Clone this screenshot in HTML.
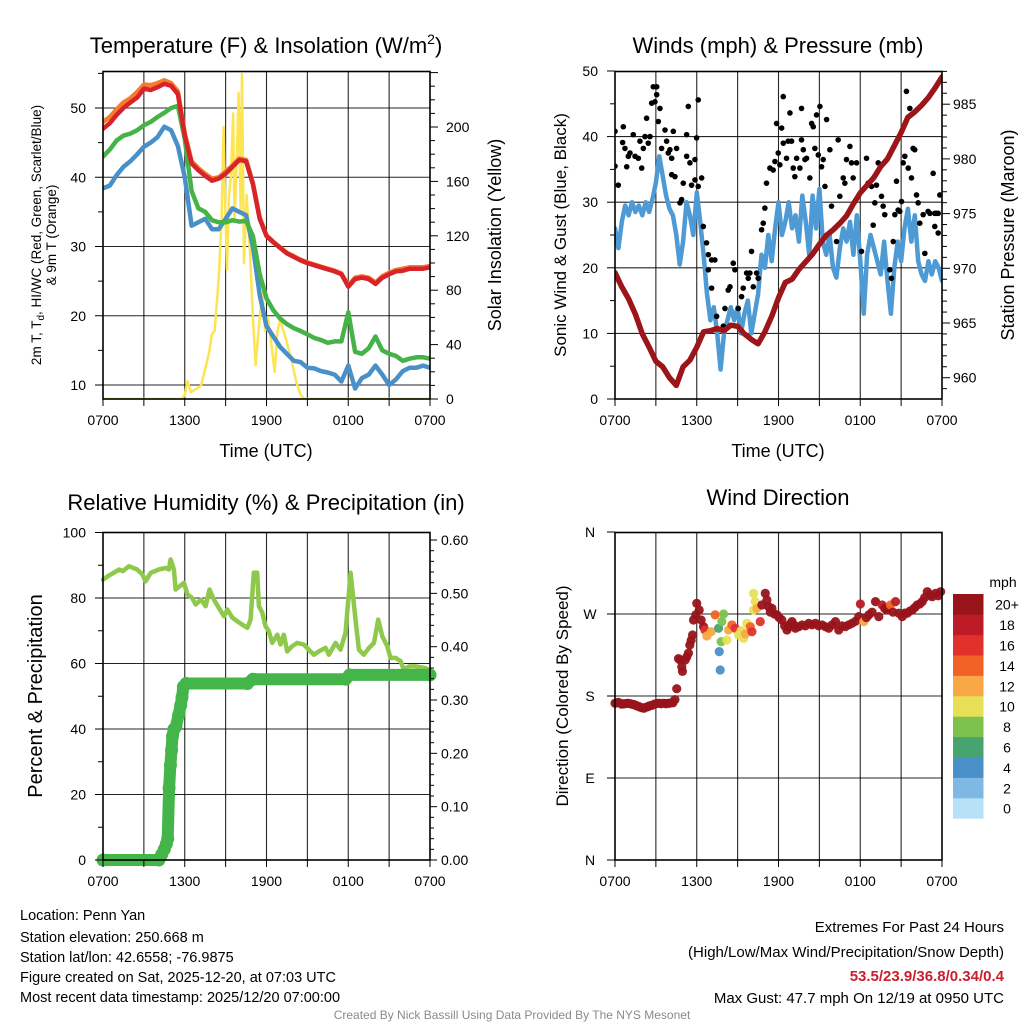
<!DOCTYPE html>
<html><head><meta charset="utf-8"><style>
html,body{margin:0;padding:0;background:#fff;}
svg{display:block;font-family:"Liberation Sans",Arial,sans-serif;}
</style></head><body>
<svg id="chart" width="1024" height="1024" viewBox="0 0 1024 1024" xmlns="http://www.w3.org/2000/svg">
<defs>
<clipPath id="c1"><rect x="103" y="71.5" width="327" height="327.5"/></clipPath>
<clipPath id="c2"><rect x="615" y="71.5" width="327" height="327.5"/></clipPath>
<clipPath id="c3"><rect x="95" y="525" width="345" height="345"/></clipPath>
<clipPath id="c4"><rect x="608" y="525" width="342" height="342"/></clipPath>
</defs>
<rect x="0" y="0" width="1024" height="1024" fill="#fff"/>
<g id="grids"></g>
<g id="series"></g>
<g id="frames"></g>
<g id="labels" font-size="14" fill="#000"></g>

<text x="266" y="53" font-size="22" text-anchor="middle">Temperature (F) &amp; Insolation (W/m<tspan font-size="14" dy="-9">2</tspan><tspan dy="9">)</tspan></text>
<text x="778" y="53" font-size="22" text-anchor="middle">Winds (mph) &amp; Pressure (mb)</text>
<text x="266" y="510" font-size="22" text-anchor="middle">Relative Humidity (%) &amp; Precipitation (in)</text>
<text x="778" y="505" font-size="22" text-anchor="middle">Wind Direction</text>

<text transform="translate(41,235) rotate(-90)" font-size="13.5" text-anchor="middle">2m T, T<tspan font-size="10" dy="3">d</tspan><tspan dy="-3">, HI/WC (Red, Green, Scarlet/Blue)</tspan></text>
<text transform="translate(56,235) rotate(-90)" font-size="13.5" text-anchor="middle">&amp; 9m T (Orange)</text>
<text transform="translate(501,235) rotate(-90)" font-size="18" text-anchor="middle">Solar Insolation (Yellow)</text>
<text x="266" y="457" font-size="18" text-anchor="middle">Time (UTC)</text>

<text transform="translate(566,235) rotate(-90)" font-size="17" text-anchor="middle">Sonic Wind &amp; Gust (Blue, Black)</text>
<text transform="translate(1014,235) rotate(-90)" font-size="18" text-anchor="middle">Station Pressure (Maroon)</text>
<text x="778" y="457" font-size="18" text-anchor="middle">Time (UTC)</text>

<text transform="translate(42,696) rotate(-90)" font-size="20" text-anchor="middle">Percent &amp; Precipitation</text>
<text transform="translate(568,696) rotate(-90)" font-size="17" text-anchor="middle">Direction (Colored By Speed)</text>

<text x="1003" y="587" font-size="14" text-anchor="middle">mph</text>
<g id="cbar"></g>

<g font-size="14.5">
<text x="20" y="920">Location: Penn Yan</text>
<text x="20" y="942">Station elevation: 250.668 m</text>
<text x="20" y="962">Station lat/lon: 42.6558; -76.9875</text>
<text x="20" y="982">Figure created on Sat, 2025-12-20, at 07:03 UTC</text>
<text x="20" y="1002">Most recent data timestamp: 2025/12/20 07:00:00</text>
</g>
<g font-size="15" text-anchor="end">
<text x="1004" y="932">Extremes For Past 24 Hours</text>
<text x="1004" y="957">(High/Low/Max Wind/Precipitation/Snow Depth)</text>
<text x="1004" y="981" font-weight="bold" fill="#c8202f">53.5/23.9/36.8/0.34/0.4</text>
<text x="1004" y="1003">Max Gust: 47.7 mph On 12/19 at 0950 UTC</text>
</g>
<text x="512" y="1019" font-size="12" fill="#8a8a8a" text-anchor="middle">Created By Nick Bassill Using Data Provided By The NYS Mesonet</text>
</svg>
<script>
// ---------- data ----------
const timeTickLabels = ["0700","1300","1900","0100","0700"];
const halfHours = [0,0.5,1,1.5,2,2.5,3,3.5,4,4.5,5,5.5,6,6.5,7,7.5,8,8.5,9,9.5,10,10.5,11,11.5,12,12.5,13,13.5,14,14.5,15,15.5,16,16.5,17,17.5,18,18.5,19,19.5,20,20.5,21,21.5,22,22.5,23,23.5,24];
const tempRed = [47.0,47.8,49.0,50.0,50.8,51.5,52.8,52.6,53.0,53.5,53.2,52.0,46.0,42.0,41.0,40.2,39.5,39.8,40.5,41.5,42.5,42.3,39.0,34.0,31.5,30.6,29.8,29.0,28.5,28.0,27.6,27.3,27.0,26.7,26.4,26.0,24.2,25.3,25.5,25.3,24.6,25.5,26.0,26.4,26.5,26.8,26.8,26.8,27.0];
const temp9m = [48.0,48.7,49.8,50.8,51.4,52.3,53.4,53.3,53.6,54.0,53.6,52.4,46.3,42.3,41.3,40.5,39.8,40.0,40.8,41.7,42.7,42.5,39.2,34.2,31.6,30.7,29.9,29.1,28.6,28.1,27.7,27.4,27.1,26.8,26.5,26.1,24.4,25.5,25.7,25.5,24.8,25.7,26.2,26.6,26.8,27.0,27.0,27.0,27.2];
const dewGreen = [43.0,44.0,45.3,46.0,46.3,46.8,47.5,48.0,48.7,49.3,50.0,50.3,45.5,38.0,35.5,35.0,33.8,33.5,33.5,33.8,33.6,33.7,31.5,26.0,22.5,20.8,19.6,18.8,18.2,17.8,17.3,16.8,16.5,16.1,16.3,16.3,20.5,14.8,14.5,15.3,17.0,15.0,14.5,14.2,13.5,13.8,14.0,14.0,13.8];
const windChill = [38.4,38.8,40.3,41.5,42.3,43.3,44.4,45.0,45.8,47.3,46.8,44.5,40.0,33.0,33.5,34.0,32.5,32.5,34.0,35.5,35.0,34.5,30.0,23.0,18.5,17.0,15.5,14.5,13.5,13.3,12.5,12.4,12.0,11.8,11.5,10.5,12.8,9.5,11.0,11.5,12.8,11.5,10.0,10.8,12.0,12.5,12.5,12.8,12.5];
const solarTimes = [0,5.8,6.0,6.2,6.45,6.8,7.2,7.5,7.8,8.0,8.2,8.5,8.7,8.85,8.95,9.1,9.25,9.4,9.55,9.65,9.8,9.95,10.1,10.2,10.35,10.55,10.8,11.0,11.2,11.5,11.7,11.9,12.1,12.3,12.6,12.8,13.0,13.4,13.8,14.2,14.5,14.8,24];
const solarValues = [0,0,3,13,5,7,10,22,35,48,50,90,130,200,150,95,150,165,210,130,170,225,140,239,100,150,105,60,25,60,78,50,60,45,20,50,58,45,30,12,3,0,0];
const tempTicks = [10,20,30,40,50];
const solarTicks = [0,40,80,120,160,200];

const quarterHours = [0,0.25,0.5,0.75,1,1.25,1.5,1.75,2,2.25,2.5,2.75,3,3.25,3.5,3.75,4,4.25,4.5,4.75,5,5.25,5.5,5.75,6,6.25,6.5,6.75,7,7.25,7.5,7.75,8,8.25,8.5,8.75,9,9.25,9.5,9.75,10,10.25,10.5,10.75,11,11.25,11.5,11.75,12,12.25,12.5,12.75,13,13.25,13.5,13.75,14,14.25,14.5,14.75,15,15.25,15.5,15.75,16,16.25,16.5,16.75,17,17.25,17.5,17.75,18,18.25,18.5,18.75,19,19.25,19.5,19.75,20,20.25,20.5,20.75,21,21.25,21.5,21.75,22,22.25,22.5,22.75,23,23.25,23.5,23.75,24];
const windSpeed = [26,23,27,29.5,28,30,28.5,29.5,28,30,28.5,30.5,33,37,34,31,29,28,25,20.5,24,30,28,25,31.5,27,22,16,12,14,10,4.5,10,12,14,12,14,10,13,15,10,13,16,22,20,25,21,26,30,25,27,30,26,28,24,31,27,22,31,26,32,24,22,25,20,18.5,23,26,24,27,22,28,21,13,22,25,23,21,19,24,18,13,20,24,21,26,29,24,28,21,19,18,21,19,21,20,18];
const pressure = [969.6,968.3,967.2,965.8,964.0,962.8,961.5,961.0,960.0,959.3,961.0,961.6,962.8,964.2,964.3,964.5,964.3,964.8,964.7,964.0,963.5,963.1,964.2,965.6,967.3,968.7,969.0,969.9,970.6,971.3,972.2,973.0,973.5,974.1,974.8,975.9,976.9,977.6,978.3,979.3,980.0,981.2,982.4,983.8,984.3,984.9,985.6,986.5,987.5];
const gustTimes = [0.0,0.0,0.24,0.61,0.56,0.73,0.98,1.1,0.86,1.34,1.47,1.71,1.96,1.83,2.08,2.2,2.32,2.44,2.57,2.69,2.81,3.06,2.93,3.06,3.18,3.3,3.42,3.67,3.79,3.91,4.03,4.16,4.28,4.16,4.4,4.52,4.77,4.89,5.01,5.26,5.38,5.26,5.5,5.62,5.87,5.87,5.99,6.11,6.11,6.36,6.48,6.72,6.85,7.09,7.33,6.85,7.09,7.46,7.95,8.07,8.31,8.44,8.68,8.8,9.05,9.29,9.41,9.66,9.78,10.02,9.9,10.15,10.39,10.51,10.76,10.88,11.0,11.12,11.37,11.61,11.74,11.86,12.23,12.35,11.98,12.1,12.35,12.59,12.71,12.84,12.96,13.08,13.2,13.33,13.57,13.69,13.69,13.82,13.94,14.06,14.3,14.43,14.55,14.67,14.79,14.92,15.04,15.16,15.28,15.41,15.53,15.77,15.89,16.26,16.38,16.5,16.75,16.87,16.99,17.24,17.36,17.48,17.73,18.09,18.46,18.58,18.83,18.95,19.07,19.19,19.32,19.56,19.68,19.8,20.17,20.29,20.42,20.54,20.66,20.78,20.9,21.03,21.15,21.27,21.39,21.52,21.64,21.76,21.88,22.0,22.13,22.25,22.37,22.62,22.74,22.98,23.11,23.35,23.47,23.59,23.72,23.84,23.72,23.47];
const gustValues = [40.8,35.5,32.6,41.5,39.1,38.2,37.0,37.5,35.4,40.3,37.0,36.7,35.2,39.3,38.2,40.0,42.8,39.0,40.0,45.1,47.6,47.6,45.3,46.4,42.3,44.3,38.2,41.0,39.3,37.5,38.0,36.7,40.8,34.2,33.9,38.2,29.9,30.4,32.9,40.3,44.6,37.0,36.0,32.6,36.5,33.4,39.8,45.6,32.4,33.7,26.3,23.8,22.0,21.2,21.2,19.7,16.9,12.6,11.1,13.8,16.6,17.1,20.7,19.7,13.8,15.6,16.9,19.2,18.4,22.5,19.2,17.1,19.2,18.4,25.8,26.8,29.1,32.9,35.2,34.9,36.2,42.0,41.3,46.1,37.5,35.7,39.0,36.7,39.3,43.6,39.3,35.2,33.9,36.7,35.2,44.3,39.5,38.0,36.5,36.7,33.7,42.0,41.5,38.2,43.3,37.2,44.6,35.4,36.5,32.4,42.6,38.0,29.4,24.0,39.5,30.9,33.7,32.9,36.5,38.5,36.0,33.7,36.0,22.5,36.7,32.9,32.4,26.5,29.9,32.6,36.0,30.9,29.4,28.1,19.7,18.4,24.0,28.1,33.2,28.8,28.6,30.1,36.0,37.0,46.9,35.2,44.3,33.7,38.2,38.0,31.1,29.9,26.8,28.1,22.2,28.6,28.3,34.4,26.3,28.3,28.3,31.1,25.3,28.3];
const windTicks = [0,10,20,30,40,50];
const presTicks = [960,965,970,975,980,985];

const rhTimes = [0,0.45,1.2,1.45,1.9,2.5,2.9,3.13,3.5,4.1,4.6,4.84,4.96,5.2,5.33,5.94,6.2,6.55,6.8,7.2,7.53,7.82,8.14,8.5,8.88,9.12,9.49,9.85,10.2,10.6,10.83,11.07,11.32,11.44,11.69,11.93,12.17,12.42,12.79,13.03,13.27,13.52,13.89,14.25,14.74,15.1,15.48,15.84,16.33,16.58,17.07,17.43,17.8,18.17,18.53,18.78,19.14,19.51,19.89,20.2,20.5,20.86,21.1,21.47,21.84,22.08,22.45,22.94,23.67,23.9];
const rhValues = [85.6,86.9,88.7,88.2,89.7,88.7,87.2,85.1,87.7,88.7,89.2,88.7,91.8,88.7,82.6,84.6,81.1,80.0,78.0,79.5,77.5,82.6,79.5,77.0,74.4,76.5,74.0,72.9,71.9,70.9,73.4,87.7,87.7,77.5,75.5,71.4,69.9,66.3,68.8,65.8,68.8,63.7,65.3,66.3,65.8,64.2,62.7,63.7,64.8,62.7,66.3,64.2,69.3,87.7,73.4,64.2,62.7,64.7,66.3,73.4,68.3,65.3,61.7,61.7,60.7,58.1,59.1,59.1,58.6,58.1];
const precipTimes = [0,4.1,4.3,4.5,4.65,4.75,4.85,4.95,5.03,5.1,5.2,5.35,5.55,5.7,5.8,5.9,6.1,10.6,11.0,17.8,18.1,24];
const precipValues = [0,0,0.01,0.02,0.03,0.04,0.135,0.178,0.206,0.232,0.245,0.25,0.272,0.29,0.305,0.325,0.331,0.331,0.339,0.339,0.347,0.347];
const rhTicks = [0,20,40,60,80,100];
const precipTicks = [0,0.1,0.2,0.3,0.4,0.5,0.6];
const precipTickLabels = ["0.00","0.10","0.20","0.30","0.40","0.50","0.60"];

const dirTimes = [0,0.12,0.25,0.38,0.5,0.62,0.75,0.88,1,1.12,1.25,1.38,1.5,1.62,1.75,1.88,2,2.12,2.25,2.38,2.5,2.62,2.75,2.88,3,3.12,3.25,3.38,3.5,3.62,3.75,3.88,4,4.12,4.25,4.4,4.53,4.66,4.78,4.9,4.95,5.15,5.27,5.39,5.49,5.59,5.69,5.76,5.93,6.0,6.18,6.32,6.5,6.6,
6.74,7.06,7.35,7.6,7.84,7.97,7.79,7.65,7.72,8.21,8.33,8.58,8.82,9.07,9.26,9.44,9.56,9.68,9.93,10.05,10.17,10.29,10.17,10.42,10.66,10.78,
11.03,11.15,11.27,11.4,11.52,11.7,11.89,12.05,12.25,12.45,12.62,12.75,12.87,12.99,13.12,13.24,13.48,13.73,13.97,14.22,14.46,14.71,14.95,15.2,15.45,15.69,15.93,16.18,16.42,16.66,16.91,17.15,17.4,17.65,17.89,18.01,18.26,18.45,18.63,18.87,19.12,19.36,19.61,19.8,19.98,20.22,20.4,20.59,20.83,21.08,21.26,21.45,21.63,21.81,22.0,22.18,22.36,22.55,22.73,22.92,23.1,23.28,23.53,23.72,23.9];
const dirValues = [172,172.5,173,172,171,171.5,171.5,172,172,171.5,171,170.5,170,169,168.5,167.5,167,166.5,167.5,168,169,169.5,170,171,171.5,172,172,171.5,172,172,171.5,172,172,172.5,172.5,176,188,221,219.5,212,207,219.5,223,227,236,241,247,263.4,269,281.7,274.4,263.4,256,252.5,
245.9,250.6,269,254.3,261.6,270,239.7,228.7,208.5,241.5,252.5,258,254.3,247,251.7,243.3,248.1,259.8,256.1,250.6,292.7,283.6,274.4,276.2,261.6,279.9,
292.7,285.4,278.1,272,276.2,270,269,266,263.4,257,252.5,256.1,259,261.6,258,254.3,256,258,257,259.8,258,259.8,257,258,256,254.3,258,261.6,252.5,257,256.1,258,259.8,262,267.1,281,261.6,266,269,272,283.6,267.1,279.9,276,274.4,279.9,272,283.6,270.8,267.1,271,270.8,273,274.4,277,279.9,281,283.6,288,294.5,291,289,292.7,290,294.5];
const dirSpeeds = [22,22,22,22,22,22,22,22,22,22,22,22,22,22,22,22,22,22,22,22,22,22,22,22,22,22,22,22,22,22,22,22,22,22,22,22,22,22,22,22,22,22,22,22,22,22,22,22,22,22,22,22,20,16,
12,12,14,6,8,8,8,4,4,10,12,14,16,10,10,10,12,10,14,16,10,10,10,12,16,20,
22,22,22,22,22,22,22,22,22,22,22,22,22,22,22,22,22,22,22,22,22,22,22,22,22,22,22,22,22,22,22,22,22,22,22,18,12,22,22,22,22,22,18,22,22,14,22,18,22,22,22,22,22,22,22,22,20,22,22,22,22,22,22,22,22];
const dirTickLabels = ["N","E","S","W","N"];
const dirTicks = [0,90,180,270,360];
const speedBins = [0,2,4,6,8,10,12,14,16,18,20];
const speedBinLabels = ["0","2","4","6","8","10","12","14","16","18","20+"];
const speedColors = ["#b6e1f6","#7db9e4","#4990c8","#47a36f","#7cc24c","#e7e057","#f9a845","#f26226","#e0312a","#bd1c26","#98141b"];

// ---------- scales ----------
const W = 327;
const xA = t => 103 + t * W / 24;
const xB = t => 615 + t * W / 24;
const yTemp = v => 385 - (v - 10) * 6.925;
const ySolar = v => 399 - v * 1.36;
const yWind = v => 399 - v * 6.56;
const yPres = p => 377.7 - (p - 960) * 10.94;
const yRH = v => 860 - v * 3.275;
const yPrecip = v => 860 - v * 533.3;
const yDir = d => 860 - d * 328 / 360;

const NS = "http://www.w3.org/2000/svg";
function mk(tag, attrs, parent) {
  const el = document.createElementNS(NS, tag);
  for (const k in attrs) el.setAttribute(k, attrs[k]);
  parent.appendChild(el);
  return el;
}
const grids = document.getElementById('grids');
const series = document.getElementById('series');
const frames = document.getElementById('frames');
const labels = document.getElementById('labels');

// ---------- panels frames, grids, ticks ----------
const panels = [
  {x0:103, y0:71.5, y1:399, xs:xA},
  {x0:615, y0:71.5, y1:399, xs:xB},
  {x0:103, y0:532.5, y1:860, xs:xA},
  {x0:615, y0:532.5, y1:860, xs:xB}
];
panels.forEach((p, i) => {
  for (let h = 3; h < 24; h += 3) {
    const g = mk('line', {x1:p.xs(h), x2:p.xs(h), y1:p.y0, y2:p.y1, stroke:'#000', 'stroke-width':1.1, opacity:0.85}, grids);
    
    
  }
  for (let h = 0; h <= 24; h += 3) {
    const tk = mk('line', {x1:p.xs(h), x2:p.xs(h), y1:p.y1, y2:p.y1 + 7, stroke:'#000', 'stroke-width':1}, frames);
    
    
  }
  timeTickLabels.forEach((lab, j) => {
    const tx = mk('text', {x:p.xs(j * 6), y:p.y1 + 26, 'text-anchor':'middle'}, labels);
    tx.textContent = lab;
    
    
  });
  const fr = mk('rect', {x:p.x0, y:p.y0, width:W, height:p.y1 - p.y0, fill:'none', stroke:'#000', 'stroke-width':1.6}, frames);
  
  
});

function hgrid(x0, yv, name) {
  const g = mk('line', {x1:x0, x2:x0 + W, y1:yv, y2:yv, stroke:'#000', 'stroke-width':1.1, opacity:0.85}, grids);
  
  
}
function ytick(x, yv, len, name) {
  const t = mk('line', {x1:x, x2:x + len, y1:yv, y2:yv, stroke:'#000', 'stroke-width':1}, frames);
  
  
}
function ylabel(x, yv, txt, anchor, name) {
  const t = mk('text', {x:x, y:yv + 5, 'text-anchor':anchor}, labels);
  t.textContent = txt;
  
  
}

// panel 1 axes
tempTicks.forEach(v => { hgrid(103, yTemp(v), 'temperature-grid-line'); ytick(103, yTemp(v), -8, 'temperature-tick'); ylabel(86, yTemp(v), String(v), 'end', 'temperature-tick-label'); });
[15,25,35,45,55].forEach(v => ytick(103, yTemp(v), -5, 'temperature-minor-tick'));
for (let v = 0; v <= 240; v += 10) ytick(430, ySolar(v), v % 40 === 0 ? 8 : 5, 'solar-tick');
solarTicks.forEach(v => ylabel(446, ySolar(v), String(v), 'start', 'solar-tick-label'));

// panel 2 axes
windTicks.forEach(v => { if (v > 0 && v < 50) hgrid(615, yWind(v), 'wind-grid-line'); ytick(615, yWind(v), -8, 'wind-tick'); ylabel(598, yWind(v), String(v), 'end', 'wind-tick-label'); });
[5,15,25,35,45].forEach(v => ytick(615, yWind(v), -5, 'wind-minor-tick'));
for (let p = 959; p <= 988; p++) ytick(942, yPres(p), p % 5 === 0 ? 8 : 5, 'pressure-tick');
presTicks.forEach(p => ylabel(953, yPres(p), String(p), 'start', 'pressure-tick-label'));

// panel 3 axes
rhTicks.forEach(v => { if (v > 0 && v < 100) hgrid(103, yRH(v), 'humidity-grid-line'); ytick(103, yRH(v), -8, 'humidity-tick'); ylabel(86, yRH(v), String(v), 'end', 'humidity-tick-label'); });
[10,30,50,70,90].forEach(v => ytick(103, yRH(v), -5, 'humidity-minor-tick'));
for (let k = 0; k <= 30; k++) ytick(430, yPrecip(k * 0.02), k % 5 === 0 ? 7 : 4, 'precip-tick');
precipTicks.forEach((v, j) => ylabel(441, yPrecip(v), precipTickLabels[j], 'start', 'precip-tick-label'));

// panel 4 axes
dirTicks.forEach((d, j) => { if (d > 0 && d < 360) hgrid(615, yDir(d), 'direction-grid-line'); ytick(615, yDir(d), -8, 'direction-tick'); ylabel(590, yDir(d), dirTickLabels[j], 'middle', 'direction-tick-label'); });

// ---------- series ----------
function path(xs, ys, xf, yf) {
  return xs.map((x, i) => (i ? 'L' : 'M') + xf(x).toFixed(1) + ',' + yf(ys[i]).toFixed(1)).join(' ');
}
const g1 = mk('g', {'clip-path':'url(#c1)'}, series);


const lineStyle = {fill:'none', 'stroke-linejoin':'round', 'stroke-linecap':'round'};
function line(parent, d, color, w) {
  return mk('path', Object.assign({d:d, stroke:color, 'stroke-width':w}, lineStyle), parent);
}
const sSolar = line(g1, path(solarTimes, solarValues, xA, ySolar), '#fde451', 2.5);


const sWC = line(g1, path(halfHours, windChill, xA, yTemp), '#4a90c8', 4.5);


const sDew = line(g1, path(halfHours, dewGreen, xA, yTemp), '#45b347', 4.5);


const s9m = line(g1, path(halfHours, temp9m, xA, yTemp), '#f47c2a', 4.5);


const sRed = line(g1, path(halfHours, tempRed, xA, yTemp), '#d8232a', 4.5);



const g2 = mk('g', {'clip-path':'url(#c2)'}, series);


const sWind = line(g2, path(quarterHours, windSpeed, xB, yWind), '#4d9ad5', 4.5);


gustTimes.forEach((t, i) => {
  const c = mk('circle', {cx:xB(t), cy:yWind(gustValues[i]), r:2.8, fill:'#000'}, g2);
  
  
});
const sPres = line(g2, path(halfHours, pressure, xB, yPres), '#9b1519', 5.5);



const g3 = mk('g', {'clip-path':'url(#c3)'}, series);


const sRH = line(g3, path(rhTimes, rhValues, xA, yRH), '#8fc94b', 4.5);


const sPr = mk('path', Object.assign({d:path(precipTimes, precipValues, xA, yPrecip), stroke:'#43b549', 'stroke-width':12}, lineStyle), g3);


precipTimes.forEach((t, i) => {
  const c = mk('circle', {cx:xA(t), cy:yPrecip(precipValues[i]), r:6.5, fill:'#43b549'}, g3);
  
  
});

const g4 = mk('g', {'clip-path':'url(#c4)'}, series);


function speedColor(s) {
  let idx = 0;
  speedBins.forEach((b, j) => { if (s >= b) idx = j; });
  return speedColors[idx];
}
dirTimes.forEach((t, i) => {
  const c = mk('circle', {cx:xB(t), cy:yDir(dirValues[i]), r:4.6, fill:speedColor(dirSpeeds[i]), opacity:0.95}, g4);
  
  
});

// ---------- colorbar ----------
const cbar = document.getElementById('cbar');
const cbTop = 594, cbH = 20.4;
speedColors.forEach((col, j) => {
  const yy = cbTop + (speedColors.length - 1 - j) * cbH;
  const r = mk('rect', {x:953, y:yy, width:30.5, height:cbH + 0.3, fill:col}, cbar);
  
  
  const t = mk('text', {x:1007, y:yy + cbH / 2 + 5.5, 'text-anchor':'middle', 'font-size':14}, cbar);
  t.textContent = speedBinLabels[j];
  
  
});
</script>
</body></html>
